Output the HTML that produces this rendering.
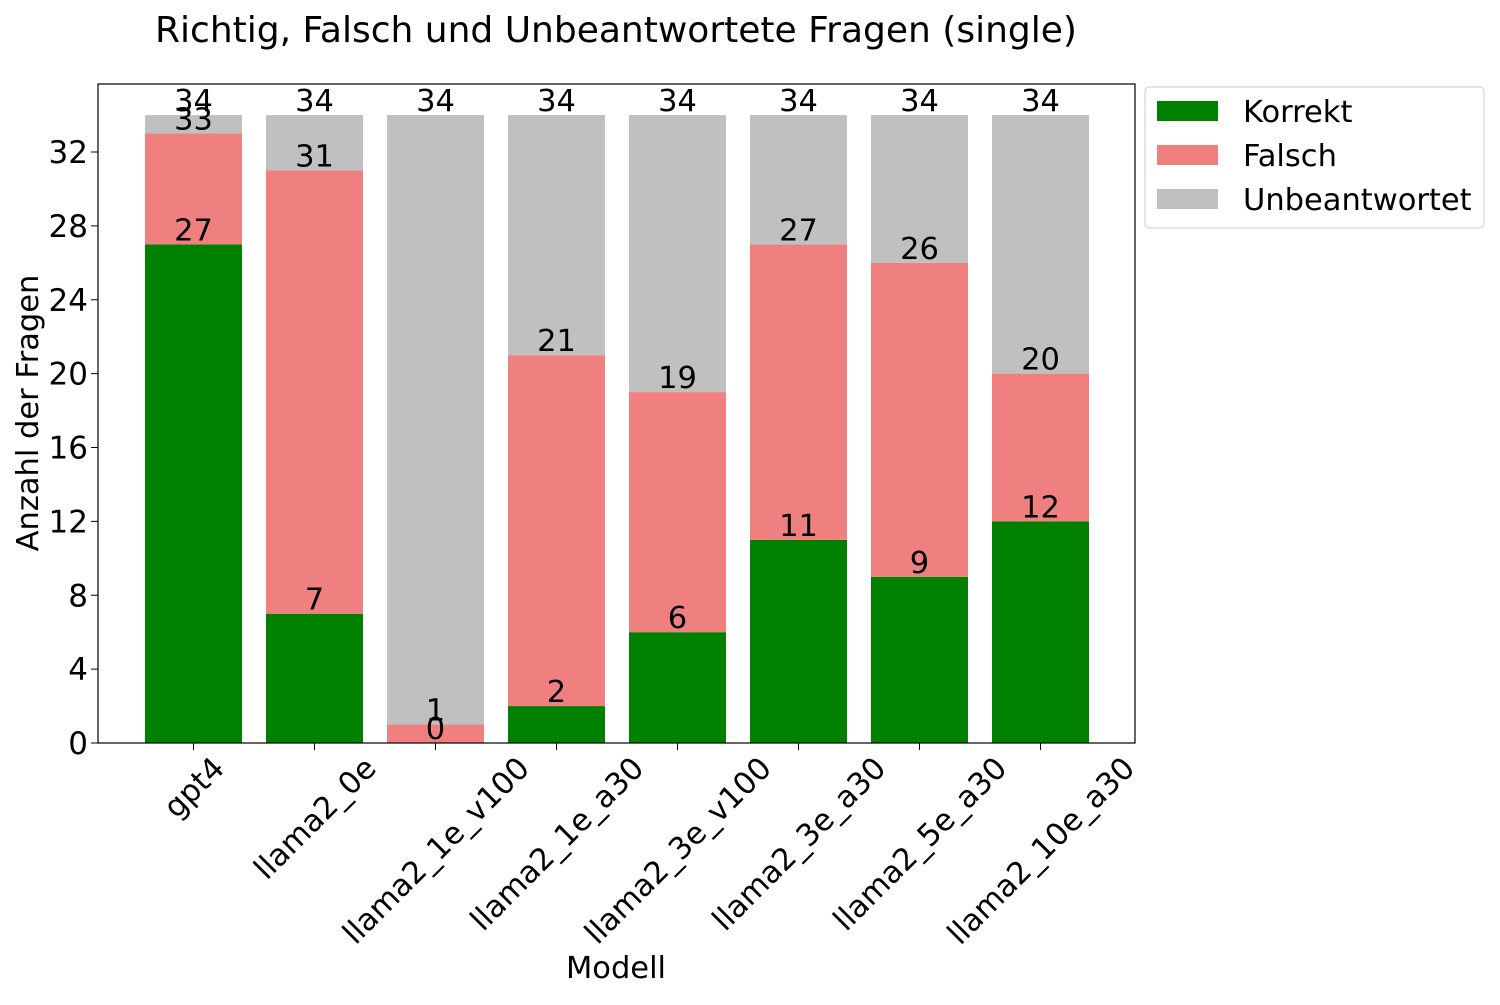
<!DOCTYPE html>
<html><head><meta charset="utf-8"><style>body{margin:0;background:#fff}svg{font-family:"DejaVu Sans","Liberation Sans",sans-serif}</style></head>
<body>
<svg id="c" width="1500" height="1000"></svg>
<script>
const categories=["gpt4","llama2_0e","llama2_1e_v100","llama2_1e_a30","llama2_3e_v100","llama2_3e_a30","llama2_5e_a30","llama2_10e_a30"];
const korrekt=[27,7,0,2,6,11,9,12];
const falsch=[6,24,1,19,13,16,17,8];
const unbeantwortet=[1,3,33,13,15,7,8,14];
const yTicks=[0,4,8,12,16,20,24,28,32];
const NS="http://www.w3.org/2000/svg";
const svg=document.getElementById('c');
const L=98,R=1135,T=84,B=743;
const FS=30.5;
const y=v=>B-v*(B-152)/32;
const step=121, x0=193.5, bw=97;
const xc=i=>x0+i*step;
function el(t,a,p){const e=document.createElementNS(NS,t);for(const k in a)e.setAttribute(k,a[k]);(p||svg).appendChild(e);return e;}
function txt(s,a){const e=el('text',a);e.textContent=s;return e;}
const t=txt("Richtig, Falsch und Unbeantwortete Fragen (single)",{x:616,y:42,'text-anchor':'middle','font-size':36,fill:'#000'});

const series=[[korrekt,'#008000','korrekt'],[falsch,'#f08080','falsch'],[unbeantwortet,'#c0c0c0','unbeantwortet']];
const labels=[];
categories.forEach((c,i)=>{
  let base=0;
  series.forEach(([arr,col,nm])=>{
    const v=arr[i];
    const r=el('rect',{x:xc(i)-bw/2,y:y(base+v),width:bw,height:y(base)-y(base+v),fill:col});
    
    
    base+=v;
    labels.push([xc(i),base]);
  });
  el('line',{x1:xc(i),x2:xc(i),y1:B,y2:B+7,stroke:'#000','stroke-width':1});
  const xl=txt(c,{x:0,y:0,'text-anchor':'middle','font-size':FS,fill:'#000',dy:'0.36em'});
  
  
  const len=xl.getComputedTextLength();
  const half=(len*0.7071+FS*0.95*0.7071)/2;
  xl.setAttribute('transform',`translate(${xc(i)},${B+9+half}) rotate(-45)`);
});
labels.forEach(([x,v])=>{
  const lb=txt(String(v),{x:x,y:y(v)-4,'text-anchor':'middle','font-size':FS,fill:'#000'});
  
  
});
yTicks.forEach(v=>{
  el('line',{x1:L-7,x2:L,y1:y(v),y2:y(v),stroke:'#000','stroke-width':1});
  const yl=txt(String(v),{x:L-10,y:y(v)+11,'text-anchor':'end','font-size':31,fill:'#000'});
  
  
});
const ax=el('rect',{x:L,y:T,width:R-L,height:B-T,fill:'none',stroke:'#000','stroke-width':1.2});

const xt=txt("Modell",{x:616,y:978,'text-anchor':'middle','font-size':FS,fill:'#000'});

const yt=txt("Anzahl der Fragen",{x:0,y:0,'text-anchor':'middle','font-size':FS,fill:'#000',transform:'translate(38,413) rotate(-90)'});

const lg=el('g',{});

el('rect',{x:1145,y:87,width:339,height:141,rx:4,fill:'#fff',stroke:'#ccc'},lg);
[['Korrekt','#008000'],['Falsch','#f08080'],['Unbeantwortet','#c0c0c0']].forEach(([n,col],k)=>{
  const cy=111+k*44;
  el('rect',{x:1157,y:cy-10,width:61,height:20,fill:col},lg);
  const e=el('text',{x:1243,y:cy+11,'font-size':FS,fill:'#000'},lg);e.textContent=n;
  
  
});
</script>
</body></html>
